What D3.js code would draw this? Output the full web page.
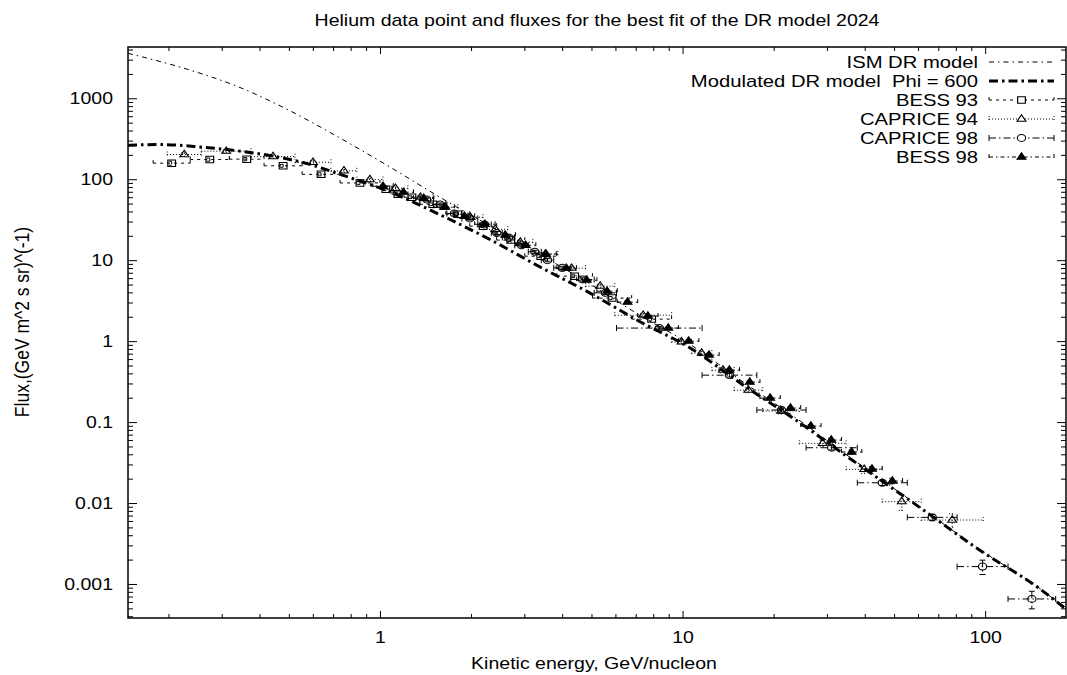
<!DOCTYPE html>
<html>
<head>
<meta charset="utf-8">
<title>Helium fluxes, DR model</title>
<script src="https://cdn.jsdelivr.net/npm/d3@7"></script>
<style>
  body { margin: 0; background: #fff; }
  svg text { font-family: "Liberation Sans", Arial, Helvetica, sans-serif; fill: #000; }
</style>
</head>
<body>
<svg id="chart" width="1067" height="675"></svg>
<script>
// model curves: kinetic energy (GeV/nucleon) -> flux
const ismEnergy = [0.147, 0.231, 0.337, 0.493, 0.721, 1.054, 1.578, 3.0, 5.0, 7.2, 10.5, 16.2, 23.1, 36.5, 60.6, 95.5, 151, 185];
const ismFlux   = [3594, 2280, 1406, 731, 339, 149, 60, 15.2, 4.95, 2.1, 0.93, 0.295, 0.12, 0.0347, 0.00908, 0.00269, 0.000888, 0.000493];
const modEnergy = [0.147, 0.188, 0.255, 0.337, 0.446, 0.574, 0.738, 1.079, 1.578, 2.31, 3.37, 4.93, 7.21, 10.5, 16.2, 23.1, 36.5, 60.6, 95.5, 151, 185];
const modFlux   = [263, 268, 250, 225, 192, 156, 115, 69.7, 36.5, 18.0, 8.3, 3.95, 1.75, 0.84, 0.272, 0.113, 0.0335, 0.0089, 0.00265, 0.00088, 0.00049];

// data sets: energy bin edges, flux in each bin, flux error
const bess93Edges = [0.178, 0.236, 0.318, 0.414, 0.553, 0.738, 1.0, 1.095, 1.2, 1.355, 1.65, 1.98, 2.43, 3.01, 3.84, 5.04, 6.79, 9.2];
const bess93Flux  = [158, 175, 177, 146.5, 115, 90, 75.3, 65.3, 60, 49.1, 37, 26.3, 17.7, 11.2, 6.35, 3.40, 1.87];
const bess93Err   = [9, 8, 8, 6, 5, 3.5, 3, 2.6, 2.3, 1.9, 1.4, 1.0, 0.7, 0.45, 0.26, 0.15, 0.09];

const caprice94Edges = [0.198, 0.257, 0.375, 0.524, 0.689, 0.839, 1.023, 1.237, 1.496, 1.809, 2.19, 2.645, 3.20, 3.87, 4.78, 5.97, 9.20, 10.7, 12.5, 14.8, 18.4, 24.3, 34.7, 45.7, 61.5, 98.5];
const caprice94Flux  = [202, 222, 190, 162, 127, 99.1, 77.4, 60, 45.1, 33.9, 24.1, 16.7, 11.9, 7.96, 4.78, 2.09, 0.98, 0.711, 0.438, 0.248, 0.137, 0.0546, 0.0261, 0.0104, 0.00617];
const caprice94Err   = [10, 10, 8, 7, 5, 4, 3, 2.4, 1.8, 1.4, 1.0, 0.7, 0.5, 0.35, 0.22, 0.1, 0.06, 0.045, 0.03, 0.018, 0.011, 0.005, 0.003, 0.0023, 0.0012];

const caprice98Edges = [1.355, 1.502, 1.664, 1.865, 2.106, 2.333, 2.537, 2.79, 3.091, 3.412, 3.752, 4.27, 5.105, 6.05, 11.6, 17.6, 25.6, 37.8, 55.3, 80.8, 119, 171];
const caprice98Flux  = [56.1, 48.7, 37.7, 32.7, 27.6, 21.7, 19.1, 15.3, 12.7, 10.0, 8.04, 5.78, 3.95, 1.45, 0.380, 0.141, 0.0482, 0.0178, 0.00665, 0.00164, 0.000653];
const caprice98Err   = [2.5, 2.1, 1.6, 1.4, 1.2, 0.9, 0.8, 0.65, 0.55, 0.45, 0.37, 0.27, 0.19, 0.07, 0.02, 0.008, 0.003, 0.0013, 0.0006, 0.00033, 0.00016];

const bess98Edges = [0.947, 1.106, 1.291, 1.508, 1.761, 2.056, 2.401, 2.803, 3.274, 3.823, 4.464, 5.212, 6.086, 7.107, 8.299, 9.691, 11.32, 13.21, 15.43, 18.02, 21.04, 24.57, 28.69, 33.50, 39.12, 45.68, 53.34];
const bess98Flux  = [82.0, 69.2, 58.2, 45.1, 34.9, 27.8, 20.4, 15.3, 11.9, 7.96, 5.66, 4.14, 3.03, 2.04, 1.45, 1.00, 0.672, 0.438, 0.312, 0.198, 0.149, 0.0893, 0.060, 0.0427, 0.0263, 0.0187];
const bess98Err   = [2.5, 2.0, 1.7, 1.3, 1.0, 0.8, 0.6, 0.45, 0.35, 0.24, 0.17, 0.13, 0.09, 0.065, 0.047, 0.033, 0.023, 0.016, 0.012, 0.008, 0.0065, 0.0043, 0.0032, 0.0025, 0.0018, 0.0015];

const xTickValues = [1, 10, 100];
const yTickValues = [0.001, 0.01, 0.1, 1, 10, 100, 1000];
const legendLabels = ['ISM DR model', 'Modulated DR model  Phi = 600', 'BESS 93', 'CAPRICE 94', 'CAPRICE 98', 'BESS 98'];

const plot = { left: 128, right: 1066, top: 47, bottom: 618 };
const SX = 1.19;      // the source raster was stretched sideways, text too
const fontSize = 16.4;
const legendFont = 17;

const svg = d3.select('#chart');
const x = d3.scaleLog().domain([0.147, 185]).range([plot.left, plot.right]);
const y = d3.scaleLog().domain([4300, 0.00038]).range([plot.top, plot.bottom]);

const isDecade = v => Math.abs(Math.log10(v) - Math.round(Math.log10(v))) < 1e-6;
const xMinor = x.ticks().filter(v => !isDecade(v));
const yMinor = y.ticks().filter(v => !isDecade(v));

function plainAxis(g) {
  g.select('.domain').remove();
  g.selectAll('.tick line').attr('stroke', '#000').attr('stroke-width', 1);
}

function addText(parent, px, py, str, anchor, size) {
  return parent.append('text')
    .attr('transform', `translate(${px},${py}) scale(${SX},1)`)
    .attr('text-anchor', anchor)
    .attr('font-size', size || fontSize)
    .style('white-space', 'pre')
    .text(str);
}

// ticks, inward on all four sides
const axes = svg.append('g');
axes.append('g').attr('transform', `translate(0,${plot.bottom})`)
  .call(d3.axisBottom(x).tickValues(xMinor).tickSize(-4).tickFormat('')).call(plainAxis);
axes.append('g').attr('transform', `translate(0,${plot.top})`)
  .call(d3.axisTop(x).tickValues(xMinor).tickSize(-4).tickFormat('')).call(plainAxis);
axes.append('g').attr('transform', `translate(0,${plot.top})`)
  .call(d3.axisTop(x).tickValues(xTickValues).tickSize(-7).tickFormat('')).call(plainAxis);
axes.append('g').attr('transform', `translate(0,${plot.bottom})`)
  .call(d3.axisBottom(x).tickValues(xTickValues).tickSize(-7).tickPadding(13).tickFormat(d => String(d)))
  .call(plainAxis)
  .call(g => g.selectAll('text').attr('font-size', fontSize).attr('transform', `scale(${SX},1)`));

axes.append('g').attr('transform', `translate(${plot.left},0)`)
  .call(d3.axisLeft(y).tickValues(yMinor).tickSize(-5).tickFormat('')).call(plainAxis);
axes.append('g').attr('transform', `translate(${plot.right},0)`)
  .call(d3.axisRight(y).tickValues(yMinor).tickSize(-5).tickFormat('')).call(plainAxis);
axes.append('g').attr('transform', `translate(${plot.right},0)`)
  .call(d3.axisRight(y).tickValues(yTickValues).tickSize(-9).tickFormat('')).call(plainAxis);
axes.append('g').attr('transform', `translate(${plot.left},0)`)
  .call(d3.axisLeft(y).tickValues(yTickValues).tickSize(-9).tickPadding(15 / SX).tickFormat(d => String(d)))
  .call(plainAxis)
  .call(g => g.selectAll('text').attr('font-size', fontSize).attr('transform', `scale(${SX},1)`));

svg.append('rect')
  .attr('x', plot.left).attr('y', plot.top)
  .attr('width', plot.right - plot.left).attr('height', plot.bottom - plot.top)
  .attr('fill', 'none').attr('stroke', '#000').attr('stroke-width', 1.5);

// titles
addText(svg, 597, 26, 'Helium data point and fluxes for the best fit of the DR model 2024', 'middle');
addText(svg, 594, 669, 'Kinetic energy, GeV/nucleon', 'middle');
svg.append('text')
  .attr('transform', `translate(29,322) scale(${SX},1) rotate(-90)`)
  .attr('text-anchor', 'middle').attr('font-size', 17.5)
  .text('Flux,(GeV m^2 s sr)^(-1)');

svg.append('clipPath').attr('id', 'clip').append('rect')
  .attr('x', plot.left).attr('y', plot.top)
  .attr('width', plot.right - plot.left).attr('height', plot.bottom - plot.top);
const area = svg.append('g').attr('clip-path', 'url(#clip)');

// model curves
const line = d3.line().x(d => x(d[0])).y(d => y(d[1])).curve(d3.curveMonotoneX);
const models = [
  { energy: ismEnergy, flux: ismFlux, width: 1, dash: '5,4,1.5,4' },
  { energy: modEnergy, flux: modFlux, width: 3, dash: '9,4,2.5,4' }
];
models.forEach(m => {
  area.append('path').datum(d3.zip(m.energy, m.flux))
    .attr('d', line).attr('fill', 'none').attr('stroke', '#000')
    .attr('stroke-width', m.width).attr('stroke-dasharray', m.dash);
});

// data sets with x/y error bars
const series = [
  { edges: bess93Edges, flux: bess93Flux, err: bess93Err, dash: '3,4', symbol: d3.symbolSquare, size: 42, fill: 'none' },
  { edges: caprice94Edges, flux: caprice94Flux, err: caprice94Err, dash: '1,2', symbol: d3.symbolTriangle, size: 24, fill: 'none' },
  { edges: caprice98Edges, flux: caprice98Flux, err: caprice98Err, dash: '7,3,1.5,3', symbol: d3.symbolCircle, size: 38, fill: 'none' },
  { edges: bess98Edges, flux: bess98Flux, err: bess98Err, dash: '4,3,1.5,3', symbol: d3.symbolTriangle, size: 24, fill: '#000' }
];
const cap = 3;

series.forEach(s => {
  const pts = s.flux.map((f, i) => ({
    lo: s.edges[i], hi: s.edges[i + 1], e: Math.sqrt(s.edges[i] * s.edges[i + 1]),
    f: f, fLo: Math.max(f - s.err[i], 1e-6), fHi: f + s.err[i]
  }));
  const g = area.append('g').attr('stroke', '#000').attr('stroke-width', 1)
    .attr('fill', 'none').attr('stroke-dasharray', s.dash);

  g.selectAll('.hbar').data(pts).join('line')
    .attr('x1', d => x(d.lo)).attr('x2', d => x(d.hi))
    .attr('y1', d => y(d.f)).attr('y2', d => y(d.f));
  g.selectAll('.vbar').data(pts).join('line')
    .attr('x1', d => x(d.e)).attr('x2', d => x(d.e))
    .attr('y1', d => y(d.fHi)).attr('y2', d => y(d.fLo));
  ['lo', 'hi'].forEach(k => {
    g.selectAll('.hcap-' + k).data(pts).join('line')
      .attr('x1', d => x(d[k])).attr('x2', d => x(d[k]))
      .attr('y1', d => y(d.f) - cap).attr('y2', d => y(d.f) + cap);
  });
  ['fLo', 'fHi'].forEach(k => {
    g.selectAll('.vcap-' + k).data(pts).join('line')
      .attr('x1', d => x(d.e) - cap).attr('x2', d => x(d.e) + cap)
      .attr('y1', d => y(d[k])).attr('y2', d => y(d[k]));
  });

  area.append('g').selectAll('path').data(pts).join('path')
    .attr('d', d3.symbol().type(s.symbol).size(s.size))
    .attr('transform', d => `translate(${x(d.e)},${y(d.f)}) scale(${SX},1)`)
    .attr('fill', s.fill).attr('stroke', '#000').attr('stroke-width', 1);
});

// legend
const legend = svg.append('g');
const lx0 = 989, lx1 = 1054, lxm = (lx0 + lx1) / 2;
legendLabels.forEach((label, i) => {
  const ly = 62 + 19 * i;
  addText(legend, 978, ly, label, 'end', legendFont).attr('dy', '0.35em');
  if (i < 2) {
    const m = models[i];
    legend.append('line').attr('x1', lx0).attr('x2', lx1).attr('y1', ly).attr('y2', ly)
      .attr('stroke', '#000').attr('stroke-width', m.width).attr('stroke-dasharray', m.dash);
  } else {
    const s = series[i - 2];
    const lg = legend.append('g').attr('stroke', '#000').attr('stroke-width', 1).attr('stroke-dasharray', s.dash);
    lg.append('line').attr('x1', lx0).attr('x2', lx1).attr('y1', ly).attr('y2', ly);
    lg.append('line').attr('x1', lx0).attr('x2', lx0).attr('y1', ly - cap).attr('y2', ly + cap);
    lg.append('line').attr('x1', lx1).attr('x2', lx1).attr('y1', ly - cap).attr('y2', ly + cap);
    legend.append('path')
      .attr('d', d3.symbol().type(s.symbol).size(s.size))
      .attr('transform', `translate(${lxm},${ly}) scale(${SX},1)`)
      .attr('fill', s.fill === 'none' ? '#fff' : s.fill).attr('stroke', '#000').attr('stroke-width', 1);
  }
});
</script>
</body>
</html>
